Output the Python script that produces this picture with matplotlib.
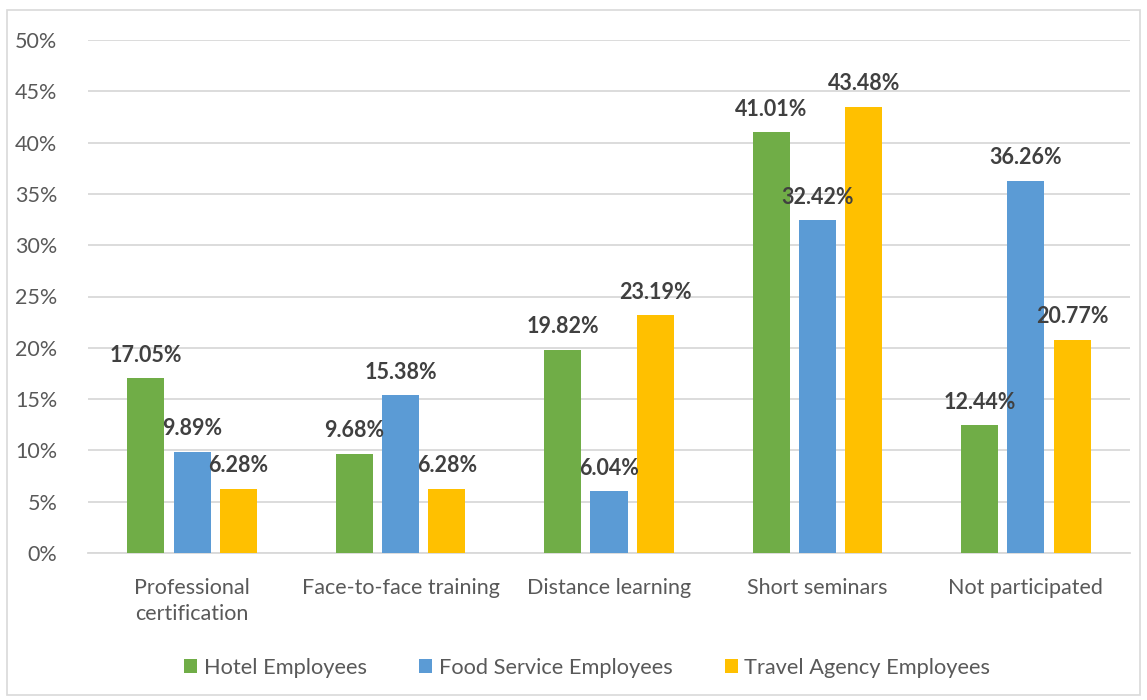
import numpy as np
import matplotlib.pyplot as plt
from matplotlib.patches import Rectangle

plt.rcParams['font.family'] = ['Lato', 'DejaVu Sans']

categories = ["Professional\ncertification", "Face-to-face training", "Distance learning",
              "Short seminars", "Not participated"]
hotel = [17.05, 9.68, 19.82, 41.01, 12.44]
food = [9.89, 15.38, 6.04, 32.42, 36.26]
travel = [6.28, 6.28, 23.19, 43.48, 20.77]

series = [("Hotel Employees", hotel, "#70AD47"),
          ("Food Service Employees", food, "#5B9BD5"),
          ("Travel Agency Employees", travel, "#FFC000")]

fig = plt.figure(figsize=(11.47, 7.0), dpi=100)
ax = fig.add_axes([88 / 1147, 147 / 700, 1042 / 1147, 513 / 700])

x = np.arange(len(categories))
w = 0.178
offsets = [-0.222, 0, 0.222]
for (name, vals, col), off in zip(series, offsets):
    bars = ax.bar(x + off, vals, w, color=col, label=name, zorder=3)
    for b, v in zip(bars, vals):
        ax.annotate("%.2f%%" % v, (b.get_x() + b.get_width() / 2, v),
                    xytext=(0, 9), textcoords="offset points",
                    ha="center", va="bottom", fontsize=15.5, fontweight="bold",
                    color="#404040", zorder=4)

ax.set_xlim(-0.5, len(categories) - 0.5)
ax.set_ylim(0, 50)
ax.set_yticks(range(0, 51, 5))
ax.set_yticklabels(["%d%%" % t for t in range(0, 51, 5)])
ax.set_xticks(x)
ax.set_xticklabels(categories, linespacing=1.4)
ax.grid(axis="y", color="#d9d9d9", linewidth=1.3, zorder=0)
for s in ["top", "right", "left"]:
    ax.spines[s].set_visible(False)
ax.spines["bottom"].set_color("#d9d9d9")
ax.spines["bottom"].set_linewidth(1.3)
ax.tick_params(axis="both", length=0, labelsize=15.5, labelcolor="#595959")
ax.tick_params(axis="y", pad=22)
ax.tick_params(axis="x", pad=18)

ax.legend(loc="center", bbox_to_anchor=(0.512, 1 - 668 / 700), bbox_transform=fig.transFigure,
          ncol=3, frameon=False, fontsize=15.7, labelcolor="#595959",
          handlelength=0.6, handleheight=0.6, handletextpad=0.3, columnspacing=2.4)

fig.patches.append(Rectangle((7 / 1147, 5 / 700), 1133 / 1147, 685 / 700,
                             transform=fig.transFigure, fill=False,
                             edgecolor="#d9d9d9", linewidth=1.2))

fig.savefig("out.png", dpi=100)
